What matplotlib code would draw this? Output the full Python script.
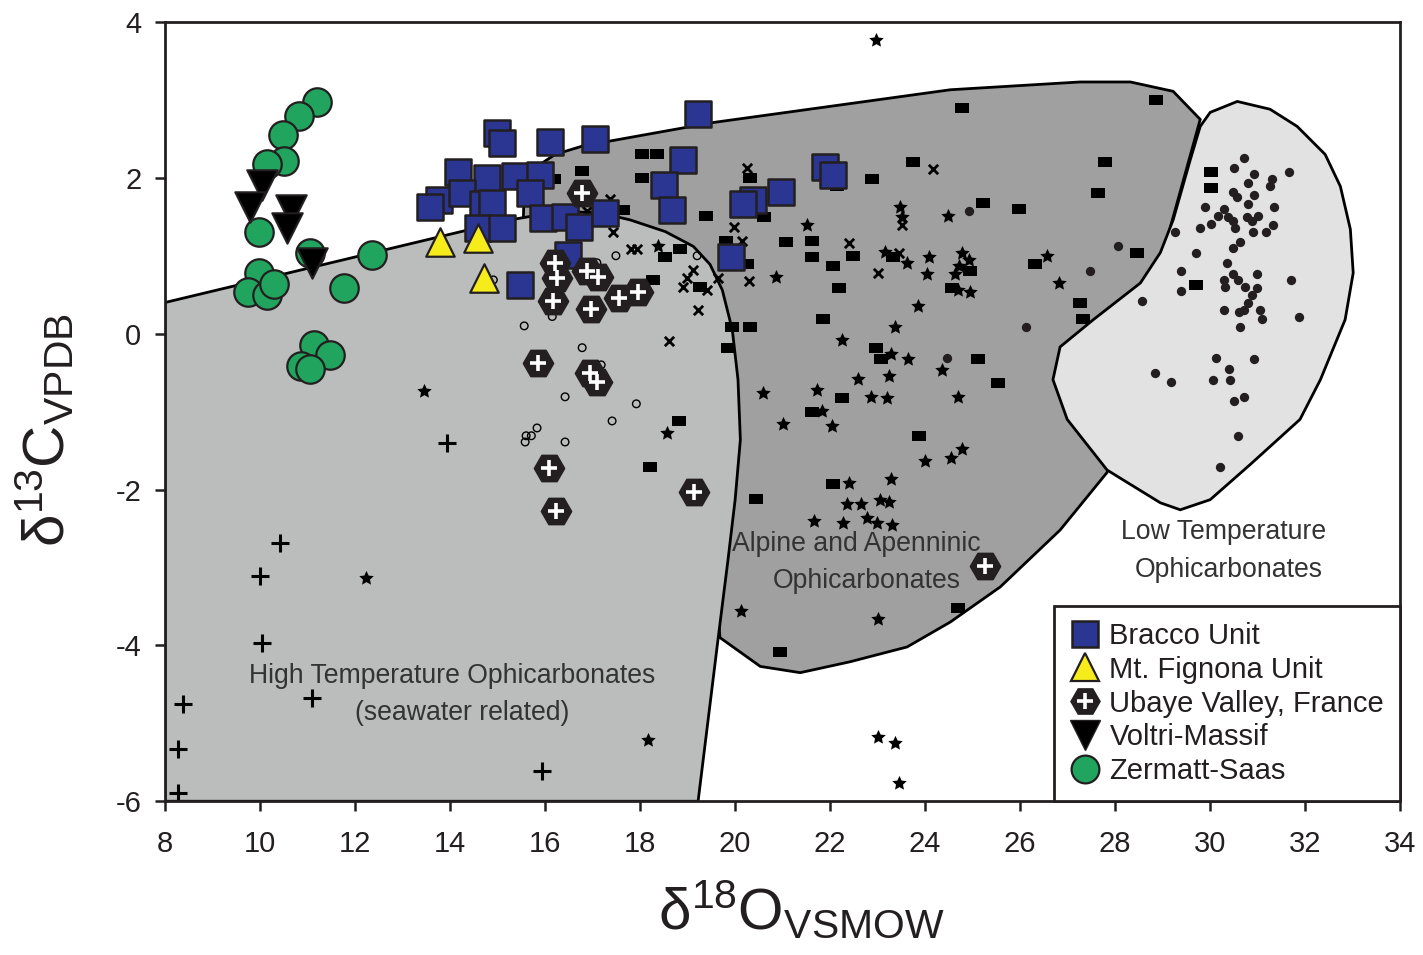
import numpy as np
import matplotlib
matplotlib.use('Agg')
from matplotlib import pyplot as plt
from matplotlib.patches import Polygon
from matplotlib.lines import Line2D
from matplotlib.path import Path

plt.rcParams['font.family'] = ['Liberation Sans', 'DejaVu Sans']
plt.rcParams['axes.unicode_minus'] = False

INK = '#231f20'

# field outlines (d18O, d13C)
high_t_field = [(8.00, 0.40), (15.26, 1.46), (16.32, 1.57), (17.16, 1.55), (17.79, 1.46),
                (18.53, 1.31), (19.12, 1.12), (19.47, 0.89), (19.73, 0.56), (19.94, 0.05),
                (20.06, -0.59), (20.11, -1.36), (20.00, -2.13), (19.85, -2.90), (19.64, -3.92),
                (19.43, -4.96), (19.22, -6.0), (8.0, -6.0)]
alpine_field = [(15.54, 1.44), (15.56, 1.85), (15.79, 2.13), (16.21, 2.30), (16.80, 2.41),
                (19.54, 2.71), (24.53, 3.13), (27.26, 3.23), (28.32, 3.23), (29.22, 3.11),
                (29.79, 2.75), (28.74, 0.44), (27.83, -1.78), (26.84, -2.52), (25.58, -3.25),
                (24.53, -3.70), (23.62, -4.02), (22.42, -4.21), (21.37, -4.35), (20.53, -4.27),
                (19.68, -3.90), (19.26, -0.85), (18.21, 1.21)]
low_t_field = [(29.79, 2.66), (30.00, 2.84), (30.57, 2.98), (31.26, 2.88), (31.83, 2.66),
               (32.42, 2.30), (32.74, 1.89), (32.95, 1.34), (33.01, 0.78), (32.84, 0.18),
               (32.32, -0.59), (31.89, -1.10), (30.84, -1.68), (30.00, -2.13), (29.37, -2.26),
               (28.95, -2.17), (27.83, -1.75), (26.99, -1.10), (26.69, -0.59), (26.84, -0.17),
               (27.54, 0.18), (28.53, 0.65), (28.95, 1.04), (29.22, 1.46), (29.58, 2.23)]

# literature data
lit_plus_x = [13.94, 10.42, 10.00, 10.04, 8.38, 11.09, 8.27, 8.27, 15.94]
lit_plus_y = [-1.40, -2.68, -3.11, -3.97, -4.75, -4.67, -5.33, -5.89, -5.61]

lit_open_x = [17.49, 19.20, 15.56, 16.15, 16.78, 17.18, 16.42, 17.92, 17.41, 15.83, 15.71,
              15.60, 15.58, 16.42, 14.91, 17.09]
lit_open_y = [1.00, 1.00, 0.10, 0.22, -0.18, -0.40, -0.81, -0.90, -1.12, -1.21, -1.31,
              -1.31, -1.39, -1.39, 0.69, 0.91]

lit_x_x = [20.25, 24.17, 23.52, 22.40, 23.01, 23.45, 19.98, 20.15, 20.29, 19.22, 18.61,
           19.12, 18.99, 18.91, 19.41, 19.64, 17.43, 17.81, 17.94, 16.88, 17.37]
lit_x_y = [2.13, 2.11, 1.40, 1.17, 0.78, 1.04, 1.37, 1.19, 0.67, 0.31, -0.10,
           0.82, 0.71, 0.60, 0.56, 0.72, 1.30, 1.09, 1.09, 1.57, 1.73]

lit_rect_x = [18.04, 18.36, 16.78, 18.04, 16.19, 17.64, 19.39, 20.32, 22.88, 23.75, 22.15,
              20.61, 18.84, 18.53, 18.27, 19.26, 19.81, 20.25, 21.07, 21.62, 21.62, 22.06,
              22.48, 22.19, 23.33, 24.57, 24.95, 21.85, 19.94, 20.32, 19.85, 22.97, 23.07,
              22.25, 21.62, 23.87, 18.82, 18.21, 25.22, 25.98, 25.12, 25.54, 24.78, 28.86,
              27.79, 27.64, 30.02, 30.02, 26.32, 28.46, 27.26, 27.33, 29.71, 22.06, 20.44,
              24.69, 20.95]
lit_rect_y = [2.30, 2.31, 2.09, 2.00, 1.99, 1.59, 1.51, 2.00, 1.99, 2.20, 1.89,
              1.50, 1.09, 0.99, 0.69, 0.60, 1.19, 0.89, 1.18, 1.19, 0.99, 0.87,
              1.00, 0.59, 0.99, 0.59, 0.80, 0.19, 0.09, 0.09, -0.19, -0.19, -0.32,
              -0.82, -1.00, -1.31, -1.12, -1.71, 1.68, 1.60, -0.32, -0.63, 2.90, 3.00,
              2.20, 1.80, 2.08, 1.87, 0.89, 1.04, 0.40, 0.19, 0.62, -1.93, -2.12,
              -3.52, -4.09]

lit_star_x = [22.97, 23.47, 23.52, 24.48, 21.52, 20.86, 23.16, 23.62, 24.08, 24.04, 24.78,
              24.93, 24.72, 24.63, 24.69, 24.95, 23.85, 23.37, 22.25, 23.28, 23.64, 24.36,
              22.59, 23.24, 20.59, 21.73, 22.86, 23.20, 24.69, 21.83, 21.01, 22.04, 24.00,
              24.55, 24.78, 23.28, 22.40, 22.36, 22.65, 23.05, 23.24, 21.66, 22.27, 22.78,
              22.99, 23.31, 20.13, 23.01, 26.57, 26.82, 18.38, 18.57, 13.45, 12.23, 18.17,
              23.01, 23.37, 23.45]
lit_star_y = [3.77, 1.63, 1.50, 1.51, 1.39, 0.73, 1.05, 0.91, 0.99, 0.77, 1.03,
              0.94, 0.87, 0.77, 0.56, 0.53, 0.36, 0.09, -0.08, -0.26, -0.32, -0.47,
              -0.58, -0.54, -0.76, -0.72, -0.81, -0.83, -0.81, -0.99, -1.16, -1.18, -1.64,
              -1.60, -1.48, -1.86, -1.91, -2.18, -2.18, -2.14, -2.16, -2.41, -2.43, -2.37,
              -2.43, -2.46, -3.56, -3.66, 1.00, 0.65, 1.12, -1.27, -0.74, -3.13, -5.22,
              -5.17, -5.25, -5.76]

lit_dot_x = [30.72, 30.51, 30.93, 31.31, 31.26, 31.66, 30.80, 30.48, 30.57, 30.93, 30.80,
             29.89, 30.29, 30.17, 30.38, 30.48, 30.53, 30.78, 30.88, 31.01, 31.35, 30.02,
             29.79, 29.26, 30.91, 31.18, 31.33, 30.63, 30.48, 29.71, 30.36, 29.39, 30.48,
             30.59, 30.29, 30.32, 30.99, 30.74, 30.99, 31.71, 29.39, 30.88, 30.80, 30.29,
             30.61, 30.72, 31.05, 31.09, 31.87, 30.63, 28.57, 30.13, 30.93, 30.40, 30.42,
             30.06, 28.84, 29.18, 30.72, 30.51, 30.59, 30.21, 26.13, 24.46, 24.93, 28.06,
             27.47]
lit_dot_y = [2.25, 2.12, 2.05, 1.99, 1.90, 2.07, 1.93, 1.82, 1.76, 1.78, 1.67,
             1.63, 1.60, 1.51, 1.50, 1.44, 1.36, 1.50, 1.44, 1.51, 1.62, 1.41,
             1.35, 1.30, 1.30, 1.30, 1.39, 1.18, 1.10, 1.03, 0.91, 0.81, 0.76,
             0.69, 0.69, 0.60, 0.76, 0.60, 0.58, 0.69, 0.55, 0.49, 0.39, 0.31,
             0.28, 0.30, 0.30, 0.19, 0.21, 0.09, 0.42, -0.31, -0.32, -0.45, -0.59,
             -0.59, -0.51, -0.62, -0.81, -0.87, -1.31, -1.71, 0.09, -0.31, 1.57, 1.12,
             0.80]

# this study / compared units
bracco_x = [14.99, 15.09, 16.11, 17.05, 19.22, 14.17, 14.78, 15.37, 15.89, 18.91, 18.51,
            18.67, 13.77, 13.58, 14.25, 14.69, 14.88, 15.68, 15.96, 16.42, 16.72, 17.26,
            14.59, 15.09, 16.48, 15.47, 20.38, 20.17, 20.97, 21.89, 22.06, 19.92]
bracco_y = [2.58, 2.45, 2.46, 2.50, 2.82, 2.08, 2.00, 2.02, 2.04, 2.23, 1.91,
            1.59, 1.72, 1.63, 1.81, 1.66, 1.68, 1.81, 1.49, 1.50, 1.37, 1.55,
            1.36, 1.36, 1.01, 0.63, 1.72, 1.66, 1.82, 2.14, 2.04, 0.98]

fignona_x = [13.79, 14.59, 14.72]
fignona_y = [1.18, 1.23, 0.72]

ubaye_x = [16.78, 16.21, 16.25, 16.17, 16.88, 17.12, 16.97, 17.56, 17.96, 15.85, 16.95,
           17.09, 16.08, 16.23, 19.14, 25.26]
ubaye_y = [1.80, 0.91, 0.72, 0.42, 0.80, 0.73, 0.32, 0.46, 0.54, -0.37, -0.50,
           -0.62, -1.72, -2.27, -2.03, -2.98]

voltri_x = [10.04, 9.79, 10.65, 10.57, 11.09]
voltri_y = [1.91, 1.63, 1.59, 1.36, 0.91]

zermatt_x = [11.20, 10.82, 10.48, 10.51, 10.15, 9.98, 9.98, 9.75, 10.15, 10.29, 11.05,
             12.36, 11.77, 11.14, 11.47, 10.86, 11.05]
zermatt_y = [2.97, 2.79, 2.55, 2.21, 2.18, 1.30, 0.78, 0.54, 0.50, 0.64, 1.04,
             1.01, 0.58, -0.14, -0.28, -0.41, -0.45]

rect_marker = Path([(-1, -0.65), (1, -0.65), (1, 0.65), (-1, 0.65), (-1, -0.65)],
                   [Path.MOVETO, Path.LINETO, Path.LINETO, Path.LINETO, Path.CLOSEPOLY])
star_marker = Path.unit_regular_star(5, innerCircle=0.48)


def main():
    fig = plt.figure(figsize=(14.23, 9.55), dpi=100)
    ax = fig.add_axes([0.116, 0.161, 0.868, 0.816])

    ax.add_patch(Polygon(alpine_field, closed=True, fc='#a0a0a0', ec='black', lw=2, zorder=1))
    ax.add_patch(Polygon(high_t_field, closed=True, fc='#bbbcbc', ec='black', lw=2, zorder=1.1))
    ax.add_patch(Polygon(low_t_field, closed=True, fc='#e2e2e2', ec='black', lw=2, zorder=1.2))

    ax.scatter(lit_plus_x, lit_plus_y, marker='+', s=150, c='black', linewidths=2.2, zorder=2)
    ax.scatter(lit_open_x, lit_open_y, marker='o', s=30, facecolors='none', edgecolors='black',
               linewidths=1, zorder=2)
    ax.scatter(lit_x_x, lit_x_y, marker='x', s=45, c='black', linewidths=2, zorder=2)
    ax.scatter(lit_rect_x, lit_rect_y, marker=rect_marker, s=100, c='black', linewidths=0, zorder=2)
    ax.scatter(lit_star_x, lit_star_y, marker=star_marker, s=120, c='black', linewidths=0, zorder=2)
    ax.scatter(lit_dot_x, lit_dot_y, marker='o', s=45, c=INK, linewidths=0, zorder=2)

    ax.scatter(zermatt_x, zermatt_y, marker='o', s=420, c='#21a55e', edgecolors=INK,
               linewidths=1.6, zorder=3)
    ax.scatter(bracco_x, bracco_y, marker='s', s=340, c='#2b3592', edgecolors=INK,
               linewidths=1.8, zorder=4)
    ax.scatter(fignona_x, fignona_y, marker='^', s=420, c='#f7ec1b', edgecolors=INK,
               linewidths=1.6, zorder=5)
    ax.scatter(ubaye_x, ubaye_y, marker='H', s=480, c=INK, edgecolors=INK,
               linewidths=1, zorder=6)
    ax.scatter(ubaye_x, ubaye_y, marker='+', s=130, c='white', linewidths=2.6, zorder=6.5)
    ax.scatter(voltri_x, voltri_y, marker='v', s=480, c='black', edgecolors=INK,
               linewidths=1.5, zorder=7)

    txt = dict(fontsize=19.2, color='#333333', ha='center', va='center', zorder=8)
    ax.text(14.04, -4.39, 'High Temperature Ophicarbonates', **txt)
    ax.text(14.25, -4.87, '(seawater related)', **txt)
    ax.text(22.55, -2.70, 'Alpine and Apenninic', **txt)
    ax.text(22.76, -3.18, 'Ophicarbonates', **txt)
    ax.text(30.29, -2.54, 'Low Temperature', **txt)
    ax.text(30.38, -3.03, 'Ophicarbonates', **txt)

    ax.set_xlim(8, 34)
    ax.set_ylim(-6, 4)
    ax.set_xticks(np.arange(8, 35, 2))
    ax.set_yticks(np.arange(-6, 5, 2))
    ax.tick_params(direction='out', length=7, width=1.8, labelsize=21, colors=INK)
    ax.tick_params(axis='x', pad=14)
    ax.tick_params(axis='y', pad=10)
    for sp in ax.spines.values():
        sp.set_linewidth(2)
        sp.set_color(INK)

    ax.set_xlabel(r'$\mathregular{δ^{18}O_{VSMOW}}$', fontsize=42, color=INK)
    ax.set_ylabel(r'$\mathregular{δ^{13}C_{VPDB}}$', fontsize=42, color=INK)
    ax.xaxis.set_label_coords(0.515, -0.100)
    ax.yaxis.set_label_coords(-0.071, 0.476)

    handles = [
        Line2D([], [], ls='none', marker='s', ms=19, mfc='#2b3592', mec=INK, mew=1.8),
        Line2D([], [], ls='none', marker='^', ms=20, mfc='#f7ec1b', mec=INK, mew=1.6),
        (Line2D([], [], ls='none', marker='H', ms=21, mfc=INK, mec=INK),
         Line2D([], [], ls='none', marker='+', ms=11, mec='white', mew=2.6)),
        Line2D([], [], ls='none', marker='v', ms=21, mfc='black', mec=INK),
        Line2D([], [], ls='none', marker='o', ms=20, mfc='#21a55e', mec=INK, mew=1.6),
    ]
    labels = ['Bracco Unit', 'Mt. Fignona Unit', 'Ubaye Valley, France', 'Voltri-Massif',
              'Zermatt-Saas']
    leg = ax.legend(handles, labels, loc='lower right', borderaxespad=0, fontsize=21,
                    frameon=True, fancybox=False, framealpha=1, edgecolor=INK,
                    handlelength=1.0, handletextpad=0.35, labelspacing=0.2, borderpad=0.55)
    leg.get_frame().set_linewidth(2)
    leg.set_zorder(10)
    for t in leg.get_texts():
        t.set_color(INK)

    fig.savefig('out.png', dpi=100)
    plt.close(fig)


if __name__ == '__main__':
    main()
